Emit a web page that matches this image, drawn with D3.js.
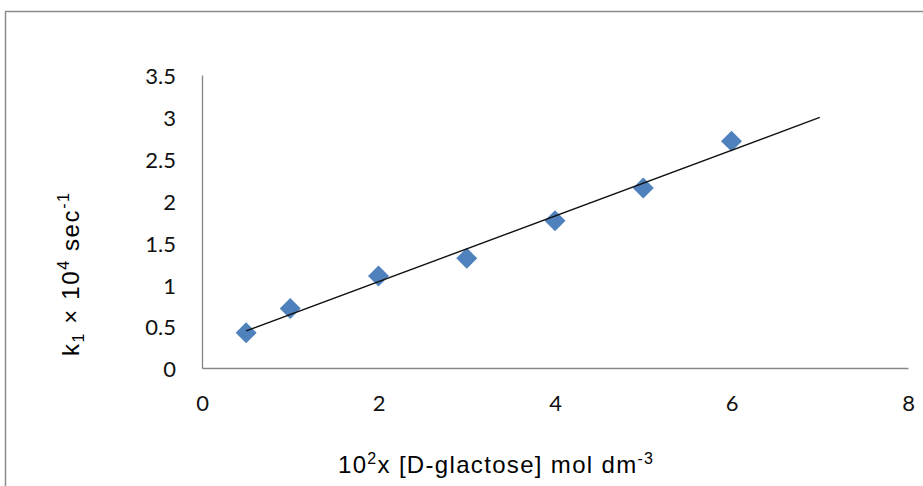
<!DOCTYPE html>
<html>
<head>
<meta charset="utf-8">
<script src="https://cdn.jsdelivr.net/npm/d3@7"></script>
<style>
  body { margin: 0; background: #fff; }
  svg { display: block; }
</style>
</head>
<body>
<div id="chart"></div>
<script>
// data
var concentration = [0.5, 1, 2, 3, 4, 5, 6];
var rateConst = [0.42, 0.71, 1.10, 1.31, 1.76, 2.15, 2.71];
var xTicks = [0, 2, 4, 6, 8];
var yTicks = [0, 0.5, 1, 1.5, 2, 2.5, 3, 3.5];
var trendEnd = 7;

var width = 923, height = 486;
var margin = {top: 75, right: 15, bottom: 118, left: 202};

var svg = d3.select("#chart").append("svg")
    .attr("width", width)
    .attr("height", height);

// outer frame
svg.append("path")
    .attr("d", "M5.5," + height + "V11.5H" + width)
    .attr("fill", "none")
    .attr("stroke", "#8c8c8c")
    .attr("stroke-width", 1.5);

var x = d3.scaleLinear().domain([0, 8]).range([margin.left, width - margin.right]);
var y = d3.scaleLinear().domain([0, 3.5]).range([height - margin.bottom, margin.top]);

var tickFont = "Lato, 'Open Sans', sans-serif";

// x axis
var xAxis = svg.append("g")
    .attr("transform", "translate(0," + y(0) + ")")
    .call(d3.axisBottom(x).tickValues(xTicks).tickSize(0).tickPadding(27).tickFormat(d3.format("d")));
xAxis.select(".domain").attr("stroke", "#868686").attr("stroke-width", 1.3);
xAxis.selectAll("text")
    .style("font-family", tickFont)
    .style("font-size", "22px")
    .attr("fill", "#111");

// y axis
var yAxis = svg.append("g")
    .attr("transform", "translate(" + x(0) + ",0)")
    .call(d3.axisLeft(y).tickValues(yTicks).tickSize(0).tickPadding(26).tickFormat(function (d) { return d; }));
yAxis.select(".domain").attr("stroke", "#868686").attr("stroke-width", 1.3);
yAxis.selectAll("text")
    .style("font-family", tickFont)
    .style("font-size", "22px")
    .attr("dy", "0.4em")
    .attr("fill", "#111");

// linear trendline (least squares)
var n = concentration.length;
var mx = d3.mean(concentration), my = d3.mean(rateConst);
var sxy = 0, sxx = 0;
for (var i = 0; i < n; i++) {
    sxy += (concentration[i] - mx) * (rateConst[i] - my);
    sxx += (concentration[i] - mx) * (concentration[i] - mx);
}
var slope = sxy / sxx, intercept = my - slope * mx;
var trend = [concentration[0], trendEnd].map(function (c) { return [c, intercept + slope * c]; });

var line = d3.line()
    .x(function (d) { return x(d[0]); })
    .y(function (d) { return y(d[1]); });

// markers
var sym = d3.symbol().type(d3.symbolSquare).size(220);
svg.selectAll(".pt")
    .data(concentration)
    .enter()
    .append("path")
    .attr("class", "pt")
    .attr("d", sym)
    .attr("transform", function (d, i) {
        return "translate(" + x(d) + "," + y(rateConst[i]) + ") rotate(45)";
    })
    .attr("fill", "#4f81bd");

svg.append("path")
    .attr("d", line(trend))
    .attr("fill", "none")
    .attr("stroke", "#111")
    .attr("stroke-width", 1.4);

var labelFont = "'Liberation Sans', Arial, sans-serif";

// y label
var yl = svg.append("text")
    .attr("transform", "translate(79,356) rotate(-90)")
    .attr("textLength", 163)
    .attr("lengthAdjust", "spacing")
    .style("font-family", labelFont)
    .style("font-size", "24px");
yl.append("tspan").text("k");
yl.append("tspan").attr("dy", 5).style("font-size", "16px").text("1");
yl.append("tspan").attr("dy", -5).text(" × 10");
yl.append("tspan").attr("dy", -10).style("font-size", "16px").text("4");
yl.append("tspan").attr("dy", 10).text(" sec");
yl.append("tspan").attr("dy", -10).style("font-size", "16px").text("-1");

// x label
var xl = svg.append("text")
    .attr("x", 338)
    .attr("y", 473)
    .attr("textLength", 315)
    .attr("lengthAdjust", "spacing")
    .style("font-family", labelFont)
    .style("font-size", "24px");
xl.append("tspan").text("10");
xl.append("tspan").attr("dy", -9).style("font-size", "16px").text("2");
xl.append("tspan").attr("dy", 9).text("x [D-glactose] mol dm");
xl.append("tspan").attr("dy", -9).style("font-size", "16px").text("-3");
</script>
</body>
</html>
